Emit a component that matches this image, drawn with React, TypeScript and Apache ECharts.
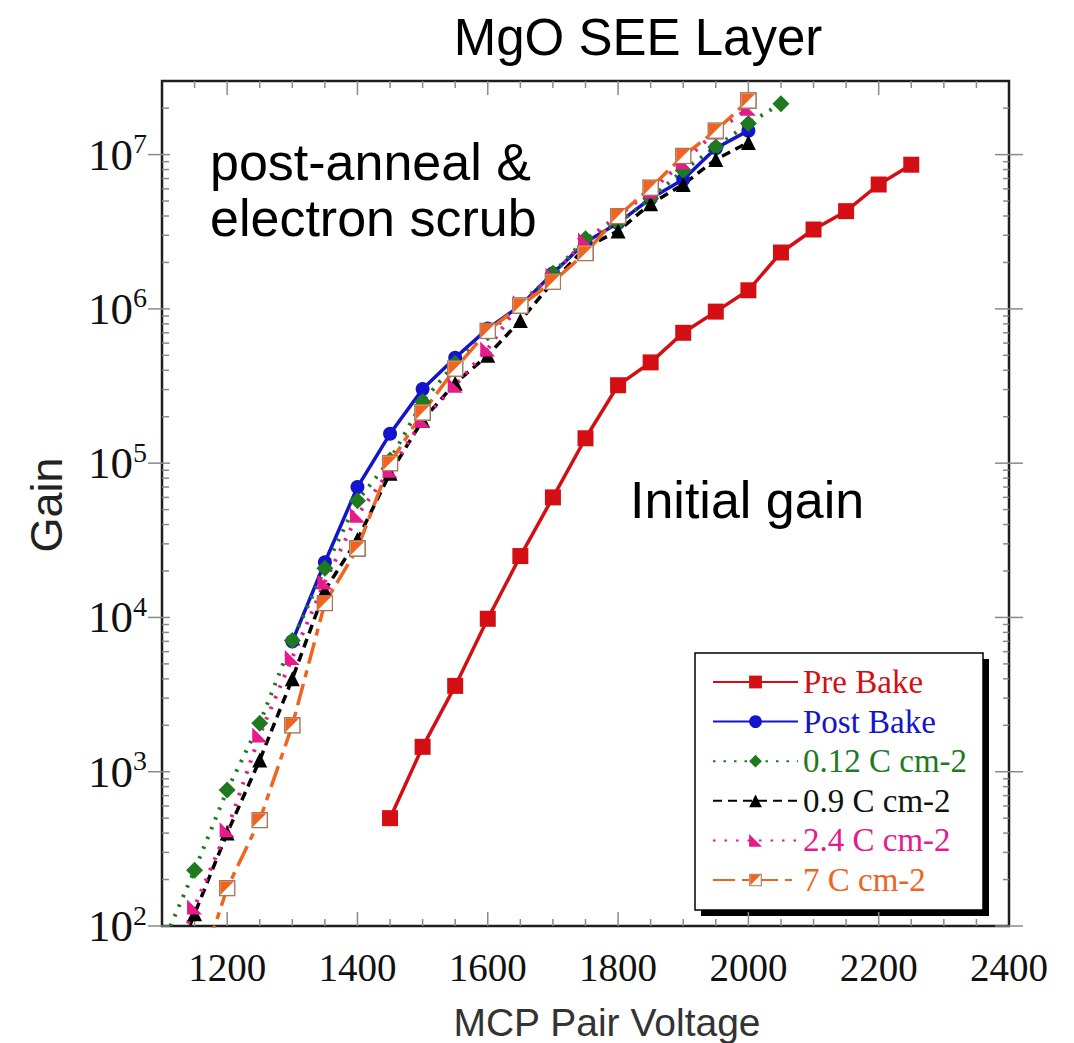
import React, { useEffect, useRef } from 'react';
import * as echarts from 'echarts';

// Axis ranges
const X_MIN = 1100;
const X_MAX = 2400;
const Y_MIN = 100;
const Y_MAX = 3e7;

// MCP pair voltage (V) and gain for each run
const preBakeV = [1450, 1500, 1550, 1600, 1650, 1700, 1750, 1800, 1850, 1900, 1950, 2000, 2050, 2100, 2150, 2200, 2250];
const preBakeGain = [500, 1450, 3600, 9800, 25000, 60000, 145000, 320000, 450000, 700000, 960000, 1320000, 2320000, 3270000, 4300000, 6400000, 8600000];

const postBakeV = [1300, 1350, 1400, 1450, 1500, 1550, 1600, 1650, 1700, 1750, 1800, 1850, 1900, 1950, 2000];
const postBakeGain = [7000, 22800, 70000, 155000, 302000, 482000, 745000, 1050000, 1700000, 2700000, 3600000, 5200000, 6900000, 11000000, 14300000];

const c012V = [1100, 1150, 1200, 1250, 1300, 1350, 1400, 1450, 1500, 1550, 1600, 1650, 1700, 1750, 1800, 1850, 1900, 1950, 2000, 2050];
const c012Gain = [75, 230, 760, 2060, 7100, 20800, 57000, 105000, 250000, 445000, 700000, 1050000, 1700000, 2850000, 3600000, 5200000, 7900000, 11200000, 15900000, 21400000];

const c09V = [1100, 1150, 1200, 1250, 1300, 1350, 1400, 1450, 1500, 1550, 1600, 1650, 1700, 1750, 1800, 1850, 1900, 1950, 2000];
const c09Gain = [36, 120, 400, 1190, 4000, 15000, 32000, 86000, 190000, 330000, 500000, 840000, 1500000, 2500000, 3200000, 4800000, 6400000, 9300000, 12000000];

const c24V = [1100, 1150, 1200, 1250, 1300, 1350, 1400, 1450, 1500, 1550, 1600, 1650, 1700, 1750, 1800, 1850, 1900, 1950, 2000];
const c24Gain = [40, 133, 420, 1730, 5500, 17000, 46000, 90000, 190000, 320000, 550000, 1100000, 1650000, 2800000, 4000000, 5800000, 9000000, 14000000, 20000000];

const c7V = [1150, 1200, 1250, 1300, 1350, 1400, 1450, 1500, 1550, 1600, 1650, 1700, 1750, 1800, 1850, 1900, 1950, 2000];
const c7Gain = [40, 176, 486, 2000, 12400, 28000, 100000, 213000, 410000, 720000, 1050000, 1500000, 2300000, 4000000, 6100000, 9800000, 14300000, 22400000];

const xLabelValues = [1200, 1400, 1600, 1800, 2000, 2200, 2400];

const SERIF = '"Liberation Serif", "Times New Roman", serif';
const SANS = '"Liberation Sans", Arial, sans-serif';
const TICK_COLOR = '#8a8a8a';

const COLORS = {
  pre: '#d40f14',
  post: '#1414cc',
  c012: '#1f7a1f',
  c09: '#000000',
  c24: '#e8198b',
  c7: '#f0641e',
};

// Half-filled square marker used by the 7 C cm-2 run
const halfSquareSvg =
  "<svg xmlns='http://www.w3.org/2000/svg' width='32' height='32' viewBox='0 0 32 32'>" +
  "<rect x='1.5' y='1.5' width='29' height='29' fill='#ffffff' stroke='#a8765e' stroke-width='3'/>" +
  "<path d='M3 3 H29 L3 29 Z' fill='#f0641e'/></svg>";
const HALF_SQUARE = 'image://data:image/svg+xml;charset=utf-8,' + encodeURIComponent(halfSquareSvg);
const RIGHT_TRIANGLE = 'path://M0,0 L0,10 L10,10 Z';

// Tick marks: [x, y, kind] with kind 0 = y minor, 1 = y major, 2 = x minor, 3 = x major
function buildTicks(): number[][] {
  const items: number[][] = [];
  for (let e = 2; e <= 7; e++) {
    for (let k = 1; k <= 9; k++) {
      const v = k * Math.pow(10, e);
      if (v >= Y_MAX) break;
      items.push([X_MIN, v, k === 1 ? 1 : 0]);
    }
  }
  for (let v = X_MIN + 50; v < X_MAX; v += 50) {
    items.push([v, Y_MIN, v % 200 === 0 ? 3 : 2]);
  }
  return items;
}

function zip(xs: number[], ys: number[]) {
  return xs.map((x, i) => [x, ys[i]]);
}

export default function App() {
  const ref = useRef<HTMLDivElement>(null);

  useEffect(() => {
    if (!ref.current) return;
    const chart = echarts.init(ref.current, null, { renderer: 'svg' });

    const lineSeries = (
      name: string,
      xs: number[],
      ys: number[],
      color: string,
      symbol: string,
      symbolSize: number,
      dash: any,
      width = 3.5
    ) => ({
      name,
      type: 'line',
      data: zip(xs, ys),
      symbol,
      symbolSize,
      clip: true,
      itemStyle: { color, borderWidth: 0 },
      lineStyle: { color, width, type: dash },
    });

    const option: any = {
      animation: false,
      backgroundColor: '#ffffff',
      textStyle: { fontFamily: SANS },
      grid: {
        left: 162,
        right: 1074 - 1009,
        top: 81,
        bottom: 1043 - 926,
        show: true,
        borderColor: '#1e1e1e',
        borderWidth: 2.5,
        backgroundColor: 'transparent',
      },
      xAxis: {
        type: 'value',
        min: X_MIN,
        max: X_MAX,
        interval: 100,
        axisLine: { show: false },
        axisTick: { show: false },
        splitLine: { show: false },
        axisLabel: {
          margin: 22,
          fontFamily: SERIF,
          fontSize: 39,
          color: '#111',
          formatter: (v: number) => (xLabelValues.indexOf(v) >= 0 ? String(v) : ''),
        },
      },
      yAxis: {
        type: 'log',
        logBase: 10,
        min: Y_MIN,
        max: Y_MAX,
        axisLine: { show: false },
        axisTick: { show: false },
        splitLine: { show: false },
        axisLabel: {
          margin: 15,
          formatter: (v: number) => {
            const l = Math.log10(v);
            const e = Math.round(l);
            if (Math.abs(l - e) > 1e-6) return '';
            return `{b|10}{s|${e}}`;
          },
          rich: {
            b: { fontFamily: SERIF, fontSize: 45, color: '#111' },
            s: { fontFamily: SERIF, fontSize: 28, color: '#111', padding: [0, 0, 22, 0] },
          },
        },
      },
      legend: {
        orient: 'vertical',
        left: 695,
        top: 653,
        padding: [12, 0, 0, 17],
        itemWidth: 85,
        itemHeight: 16,
        itemGap: 5.6,
        backgroundColor: 'transparent',
        textStyle: { fontFamily: SERIF, fontSize: 33, lineHeight: 34 },
        data: [
          { name: 'Pre Bake', textStyle: { color: COLORS.pre } },
          { name: 'Post Bake', textStyle: { color: COLORS.post } },
          { name: '0.12 C cm-2', textStyle: { color: COLORS.c012 } },
          { name: '0.9 C cm-2', textStyle: { color: '#111' } },
          { name: '2.4 C cm-2', textStyle: { color: COLORS.c24 } },
          { name: '7 C cm-2', textStyle: { color: COLORS.c7 } },
        ],
      },
      graphic: [
        // legend frame with its drop shadow
        { type: 'rect', z: 1, shape: { x: 701, y: 659, width: 288, height: 257 }, style: { fill: '#000' } },
        { type: 'rect', z: 2, shape: { x: 695, y: 653, width: 288, height: 257 }, style: { fill: '#fff', stroke: '#000', lineWidth: 1.5 } },
        {
          type: 'text', z: 10, x: 638, y: 37,
          style: { text: 'MgO SEE Layer', font: `51px ${SANS}`, fill: '#000', textAlign: 'center', textVerticalAlign: 'middle' },
        },
        {
          type: 'text', z: 10, x: 210, y: 162,
          style: { text: 'post-anneal &', font: `52px ${SANS}`, fill: '#000', textAlign: 'left', textVerticalAlign: 'middle' },
        },
        {
          type: 'text', z: 10, x: 210, y: 218,
          style: { text: 'electron scrub', font: `52px ${SANS}`, fill: '#000', textAlign: 'left', textVerticalAlign: 'middle' },
        },
        {
          type: 'text', z: 10, x: 630, y: 500,
          style: { text: 'Initial gain', font: `52px ${SANS}`, fill: '#000', textAlign: 'left', textVerticalAlign: 'middle' },
        },
        {
          type: 'text', z: 10, x: 46, y: 505, rotation: Math.PI / 2,
          style: { text: 'Gain', font: `45px ${SANS}`, fill: '#222', textAlign: 'center', textVerticalAlign: 'middle' },
        },
        {
          type: 'text', z: 10, x: 607, y: 1022,
          style: { text: 'MCP Pair Voltage', font: `39px ${SANS}`, fill: '#333', textAlign: 'center', textVerticalAlign: 'middle' },
        },
      ],
      series: [
        {
          type: 'custom',
          silent: true,
          clip: false,
          z: 1,
          data: buildTicks(),
          renderItem: (_p: any, api: any) => {
            const kind = api.value(2);
            const st = { stroke: TICK_COLOR, lineWidth: 1.5 };
            if (kind < 2) {
              const yv = api.value(1);
              const L = api.coord([X_MIN, yv]);
              const R = api.coord([X_MAX, yv]);
              const major = kind === 1;
              return {
                type: 'group',
                children: [
                  { type: 'line', shape: { x1: L[0] - (major ? 14 : 0), y1: L[1], x2: L[0] + (major ? 8 : 7), y2: L[1] }, style: st },
                  { type: 'line', shape: { x1: R[0] - (major ? 14 : 6), y1: R[1], x2: R[0] + (major ? 14 : 0), y2: R[1] }, style: st },
                ],
              };
            }
            const xv = api.value(0);
            const B = api.coord([xv, Y_MIN]);
            const T = api.coord([xv, Y_MAX]);
            const len = kind === 3 ? 14 : 7;
            return {
              type: 'group',
              children: [
                { type: 'line', shape: { x1: B[0], y1: B[1], x2: B[0], y2: B[1] - len }, style: st },
                { type: 'line', shape: { x1: T[0], y1: T[1], x2: T[0], y2: T[1] + len }, style: st },
              ],
            };
          },
        },
        lineSeries('Pre Bake', preBakeV, preBakeGain, COLORS.pre, 'rect', 16, 'solid'),
        lineSeries('Post Bake', postBakeV, postBakeGain, COLORS.post, 'circle', 14, 'solid'),
        lineSeries('0.12 C cm-2', c012V, c012Gain, COLORS.c012, 'diamond', 17, [2.5, 8], 4),
        lineSeries('0.9 C cm-2', c09V, c09Gain, COLORS.c09, 'triangle', 15, [9, 6]),
        lineSeries('2.4 C cm-2', c24V, c24Gain, COLORS.c24, RIGHT_TRIANGLE, 15, [2.5, 9], 4),
        lineSeries('7 C cm-2', c7V, c7Gain, COLORS.c7, HALF_SQUARE, 17, [22, 7, 7, 7]),
      ],
    };

    chart.setOption(option);
    return () => chart.dispose();
  }, []);

  return (
    <div
      ref={ref}
      style={{ position: 'fixed', left: 0, top: 0, width: 1074, height: 1043, background: '#fff' }}
    />
  );
}
